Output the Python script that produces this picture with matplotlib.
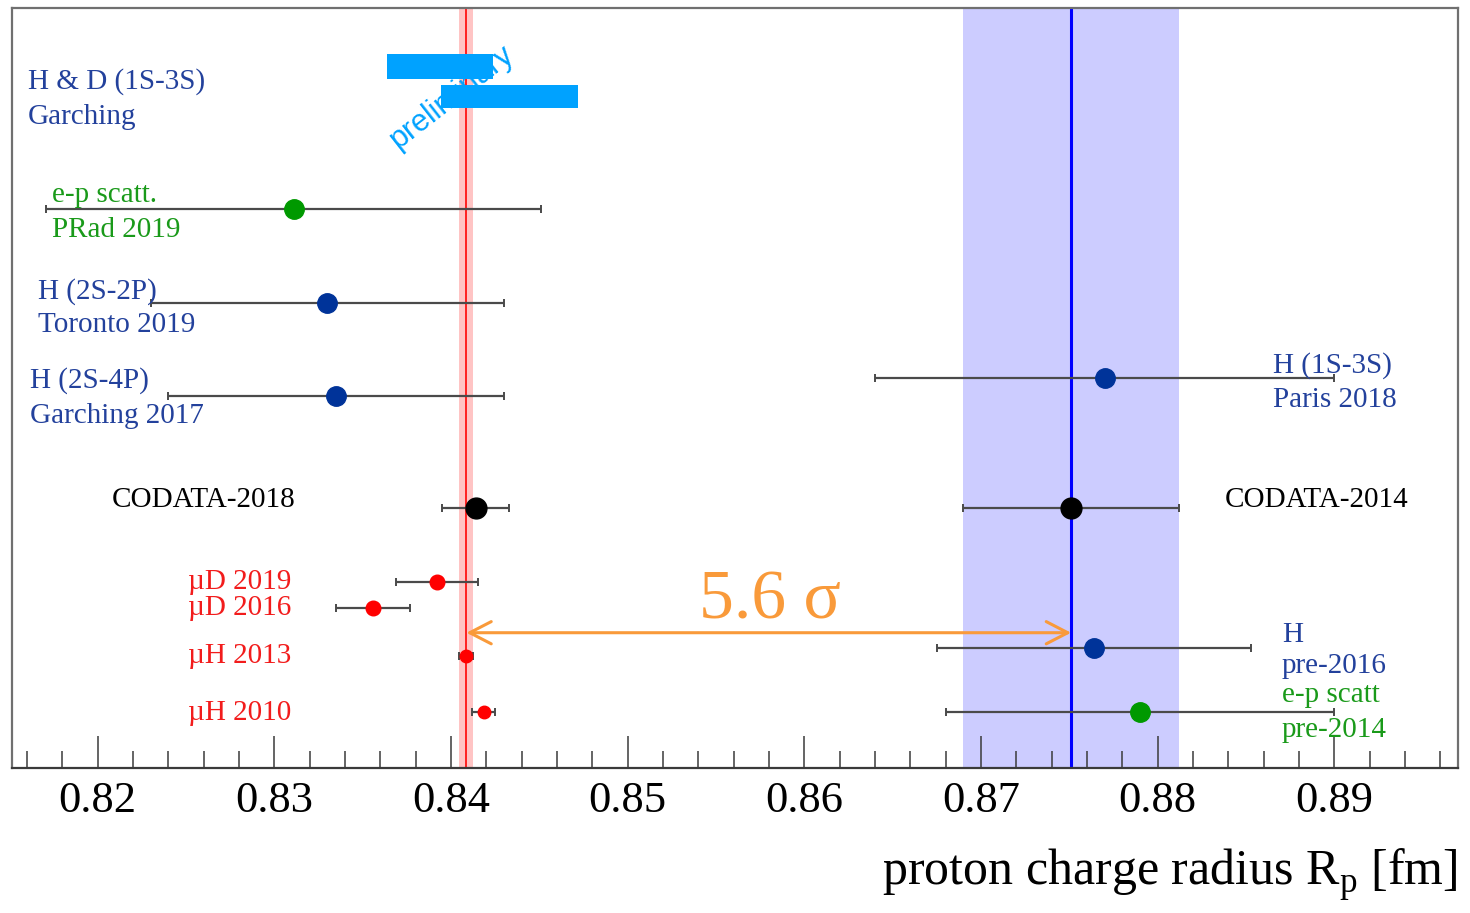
import matplotlib

matplotlib.use("Agg")
import matplotlib.pyplot as plt
from matplotlib.patches import Rectangle
from matplotlib.ticker import MultipleLocator

plt.rcParams["font.family"] = ["Liberation Serif", "DejaVu Serif"]
plt.rcParams["mathtext.fontset"] = "custom"
plt.rcParams["mathtext.rm"] = "Liberation Serif"

# ---------------------------------------------------------------- data (fm)
names = ["PRad 2019", "H 2S-2P Toronto 2019", "H 2S-4P Garching 2017", "H 1S-3S Paris 2018",
         "CODATA-2018", "CODATA-2014", "muD 2019", "muD 2016", "muH 2013", "muH 2010",
         "H pre-2016", "e-p scatt pre-2014"]
radius = [0.8311, 0.8330, 0.8335, 0.8770, 0.8414, 0.8751, 0.8392, 0.8356, 0.84087, 0.84184,
          0.8764, 0.8790]
err = [0.0140, 0.0100, 0.0095, 0.0130, 0.0019, 0.0061, 0.0023, 0.0021, 0.00039, 0.00067,
       0.0089, 0.0110]
row = [73.5, 61.2, 48.9, 51.3, 34.2, 34.2, 24.5, 21.0, 14.7, 7.4, 15.8, 7.4]
kind = ["ep", "H", "H", "H", "codata", "codata", "muD", "muD", "muH", "muH", "H", "ep"]
RED_REF, BLUE_REF = 8, 5              # muH 2013 and CODATA-2014 drawn as vertical bands
SIGMA_TEXT = "5.6 σ"

# ---------------------------------------------------------------- styles
BLUE_TXT, GREEN_TXT, RED_TXT = "#23419c", "#1a9a1a", "#f21c1c"
ORANGE = "#f99a3a"
marker_style = {"H": ("#003399", 14), "ep": ("#009900", 14), "codata": ("#000000", 15),
                "muD": ("#ff0000", 10.5), "muH": ("#ff0000", 9)}

# label text, x (fm), y (row units), colour
labels = [
    ("H & D (1S-3S)", 0.81606, 90.8, BLUE_TXT), ("Garching", 0.81606, 86.1, BLUE_TXT),
    ("e-p scatt.", 0.81741, 75.8, GREEN_TXT), ("PRad 2019", 0.81741, 71.3, GREEN_TXT),
    ("H (2S-2P)", 0.81662, 63.2, BLUE_TXT), ("Toronto 2019", 0.81662, 58.7, BLUE_TXT),
    ("H (2S-4P)", 0.81617, 51.4, BLUE_TXT), ("Garching 2017", 0.81617, 46.8, BLUE_TXT),
    ("CODATA-2018", 0.82081, 35.7, "black"),
    ("µD 2019", 0.82511, 24.9, RED_TXT), ("µD 2016", 0.82511, 21.5, RED_TXT),
    ("µH 2013", 0.82511, 15.2, RED_TXT), ("µH 2010", 0.82511, 7.7, RED_TXT),
    ("H (1S-3S)", 0.88651, 53.4, BLUE_TXT), ("Paris 2018", 0.88651, 48.9, BLUE_TXT),
    ("CODATA-2014", 0.88380, 35.7, "black"),
    ("H", 0.88702, 17.9, BLUE_TXT), ("pre-2016", 0.88702, 13.9, BLUE_TXT),
    ("e-p scatt", 0.88702, 10.0, GREEN_TXT), ("pre-2014", 0.88702, 5.4, GREEN_TXT),
]

fig = plt.figure(figsize=(14.7, 9.13), dpi=100)
ax = fig.add_axes([12 / 1470, 1 - 768 / 913, 1446 / 1470, 760 / 913])
ax.set_xlim(0.81515, 0.89700)
ax.set_ylim(0, 100)

# reference bands
b, be = radius[BLUE_REF], err[BLUE_REF]
ax.axvspan(b - be, b + be, color="#ccccff", lw=0, zorder=1)
ax.axvline(b, color="#0000ff", lw=2.2, zorder=2)
r, re = radius[RED_REF], err[RED_REF]
ax.axvspan(r - re, r + re, color="#ffc4c4", lw=0, zorder=1)
ax.axvline(r, color="#ff2020", lw=1.4, zorder=2)

# measurements
for x, e, y, k in zip(radius, err, row, kind):
    col, ms = marker_style[k]
    ax.errorbar(x, y, xerr=e, fmt="o", color=col, ms=ms, mec=col, ecolor="#4a4a4a",
                elinewidth=1.6, capsize=3, capthick=1.4, zorder=3)

for txt, x, y, col in labels:
    ax.text(x, y - 0.45, txt, color=col, fontsize=21, ha="left", va="center", zorder=4)

# discrepancy arrow
ax.annotate("", xy=(r, 17.8), xytext=(b, 17.8),
            arrowprops=dict(arrowstyle="<->,head_length=1.55,head_width=0.8",
                            color=ORANGE, lw=2.2, shrinkA=0, shrinkB=0, mutation_scale=10),
            zorder=4)
ax.text(0.85806, 21.9, SIGMA_TEXT, color=ORANGE, fontsize=50, ha="center", va="center",
        zorder=4)

# redacted "preliminary" stamp
ax.text(0.8400, 88.2, "preliminary", color="#00a2ff", fontsize=22, rotation=38,
        family="Liberation Sans", ha="center", va="center", zorder=5)
ax.add_patch(Rectangle((0.83640, 90.66), 0.00600, 3.3, color="#00a2ff", lw=0, zorder=6))
ax.add_patch(Rectangle((0.83943, 86.84), 0.00775, 3.03, color="#00a2ff", lw=0, zorder=6))

# axes cosmetics
for side in ("top", "right", "left"):
    ax.spines[side].set_color("#707070")
    ax.spines[side].set_linewidth(1.6)
ax.spines["bottom"].set_color("#3a3a3a")
ax.spines["bottom"].set_linewidth(1.6)
ax.set_yticks([])
ax.xaxis.set_major_locator(MultipleLocator(0.01))
ax.xaxis.set_minor_locator(MultipleLocator(0.002))
ax.tick_params(axis="x", which="major", direction="in", length=23, width=1.1,
               color="#3a3a3a", labelsize=32, pad=9)
ax.tick_params(axis="x", which="minor", direction="in", length=12, width=1.1,
               color="#3a3a3a")
ax.set_xticks([0.82, 0.83, 0.84, 0.85, 0.86, 0.87, 0.88, 0.89])
ax.set_xticklabels(["0.82", "0.83", "0.84", "0.85", "0.86", "0.87", "0.88", "0.89"])

ax.set_xlabel(r"proton charge radius R$_{\mathregular{p}}$ [fm]", fontsize=36, ha="right",
              va="center")
ax.xaxis.set_label_coords(1.0, -0.141)

fig.savefig("out.png", dpi=100)
